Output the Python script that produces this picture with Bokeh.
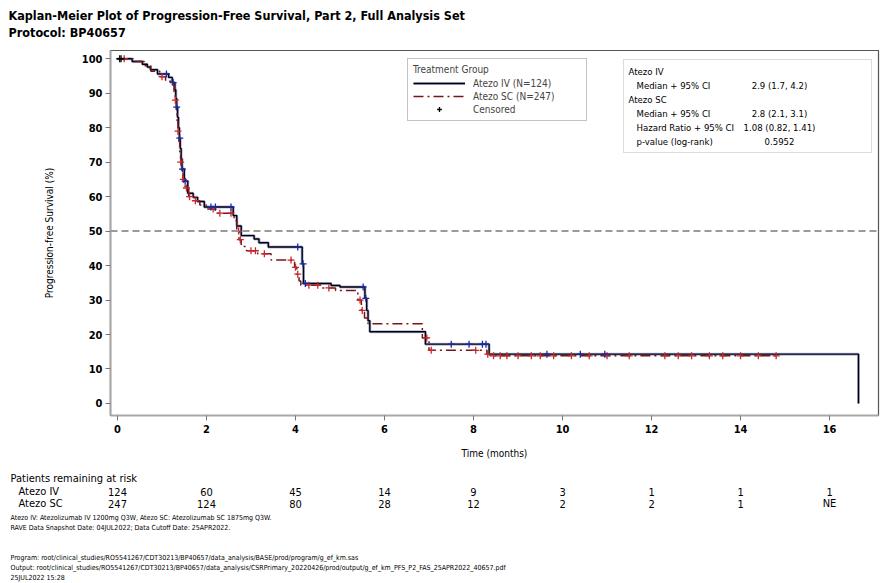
import numpy as np
from bokeh.plotting import figure
from bokeh.layouts import column
from bokeh.models import (Range1d, FixedTicker, Span, Label, BoxAnnotation,
                          Legend, LegendItem)
from bokeh.embed import file_html
from bokeh.resources import INLINE

# ---------------------------------------------------------------- data
# Kaplan-Meier step estimates (time in months, survival in %)
iv_time = [0, 0.33, 0.56, 0.67, 0.74, 0.90, 1.15, 1.23, 1.29, 1.31, 1.33, 1.35,
           1.37, 1.39, 1.41, 1.43, 1.45, 1.50, 1.58, 1.70, 1.80, 1.95, 2.60,
           2.68, 2.78, 3.07, 3.18, 3.39, 4.15, 4.18, 4.80, 5.00, 5.56, 5.60,
           5.63, 5.67, 6.92, 8.35, 16.65]
iv_surv = [100, 99.2, 98.4, 97.6, 96.8, 95.6, 94.6, 93.1, 91.0, 88.5, 86.0, 83.0,
           80.0, 77.0, 74.0, 71.0, 68.0, 64.5, 61.0, 59.8, 58.6, 57.0, 54.5,
           51.5, 48.7, 47.7, 46.6, 45.4, 40.5, 34.8, 34.2, 33.8, 30.5, 27.0,
           24.0, 20.8, 17.2, 14.3, 0]
iv_cens = [0.08, 1.10, 1.25, 1.33, 1.40, 1.46, 1.52, 2.10, 2.20, 2.55, 4.05,
           4.17, 4.22, 5.52, 5.58, 7.50, 7.90, 8.20, 8.28, 9.65, 10.40, 10.95]

sc_time = [0, 0.35, 0.60, 0.75, 0.95, 1.08, 1.20, 1.27, 1.30, 1.32, 1.34, 1.36,
           1.38, 1.40, 1.42, 1.44, 1.47, 1.52, 1.60, 1.72, 1.85, 2.00, 2.20,
           2.62, 2.68, 2.73, 2.78, 2.90, 3.15, 3.45, 3.98, 4.03, 4.08, 4.12,
           4.60, 4.90, 5.40, 5.48, 5.55, 5.63, 6.85, 7.00, 8.30, 8.37]
sc_surv = [100, 99.2, 98.0, 96.4, 94.8, 93.5, 92.5, 90.5, 88.0, 85.0, 82.0, 79.0,
           76.0, 73.0, 70.0, 67.5, 65.0, 62.5, 60.0, 58.8, 57.6, 56.4, 55.2,
           53.0, 50.0, 47.5, 45.5, 44.3, 43.4, 41.6, 39.5, 37.5, 35.5, 34.3,
           33.5, 32.8, 30.0, 27.0, 24.8, 23.1, 19.0, 15.4, 14.3, 13.8]
sc_last = 14.8
sc_cens = [0.05, 0.15, 1.00, 1.30, 1.36, 1.42, 1.48, 1.55, 1.62, 1.75, 2.15,
           2.30, 2.55, 2.72, 2.76, 3.00, 3.10, 3.30, 3.90, 4.00, 4.05, 4.30,
           4.50, 4.75, 5.45, 5.50, 6.95, 7.05, 8.05, 8.32, 8.45, 8.60, 8.75,
           9.00, 9.30, 9.50, 9.80, 10.20, 10.60, 11.00, 11.50, 12.30, 12.60,
           12.90, 13.30, 13.60, 14.00, 14.40, 14.80]

# numbers at risk
risk_times = [0, 2, 4, 6, 8, 10, 12, 14, 16]
risk_iv = ["124", "60", "45", "14", "9", "3", "1", "1", "1"]
risk_sc = ["247", "124", "80", "28", "12", "2", "2", "1", "NE"]

x_ticks = [0, 2, 4, 6, 8, 10, 12, 14, 16]
y_ticks = [0, 10, 20, 30, 40, 50, 60, 70, 80, 90, 100]

stat_labels = ["Atezo IV", "Median + 95% CI", "Atezo SC", "Median + 95% CI",
               "Hazard Ratio + 95% CI", "p-value (log-rank)"]
stat_values = ["", "2.9 (1.7, 4.2)", "", "2.8 (2.1, 3.1)",
               "1.08 (0.82, 1.41)", "0.5952"]
stat_indent = [0, 1, 0, 1, 1, 1]

title_lines = ["Kaplan-Meier Plot of Progression-Free Survival, Part 2, Full Analysis Set",
               "Protocol: BP40657"]
footnotes_a = ["Atezo IV: Atezolizumab IV 1200mg Q3W, Atezo SC: Atezolizumab SC 1875mg Q3W.",
               "RAVE Data Snapshot Date: 04JUL2022; Data Cutoff Date: 25APR2022."]
footnotes_b = ["Program: root/clinical_studies/RO5541267/CDT30213/BP40657/data_analysis/BASE/prod/program/g_ef_km.sas",
               "Output: root/clinical_studies/RO5541267/CDT30213/BP40657/data_analysis/CSRPrimary_20220426/prod/output/g_ef_km_PFS_P2_FAS_25APR2022_40657.pdf",
               "25JUL2022 15:28"]

# ---------------------------------------------------------------- geometry
W, H = 880, 583
HEAD_H = 44                      # title strip
MAIN_BOTTOM = 466                # page y where the plot figure ends
F_LEFT, F_RIGHT, F_TOP, F_BOTTOM = 110, 878, 50, 415   # plot frame, page px
X0, X1 = -0.157, 17.1
Y0, Y1 = -3.5, 102.4
FONT = "Liberation Sans Narrow, DejaVu Sans Condensed, Liberation Sans, sans-serif"
IV_BLUE = "#3a48b8"
SC_RED = "#7a1414"

MONTHS_PER_PX = (X1 - X0) / (F_RIGHT - F_LEFT)


def px_x(px):
    return X0 + (px - F_LEFT) * MONTHS_PER_PX


def px_y(py):
    return Y1 - (py - F_TOP) / (F_BOTTOM - F_TOP) * (Y1 - Y0)


def surv_at(times, surv, t):
    i = np.searchsorted(np.asarray(times), t, side="right") - 1
    return np.asarray(surv)[i]


def blank(height, y_top, y_bottom, x_range):
    f = figure(width=W, height=height, output_backend="svg", toolbar_location=None,
               x_range=x_range, y_range=Range1d(y_bottom, y_top),
               x_axis_type=None, y_axis_type=None, frame_align=False,
               min_border=0, min_border_left=0, min_border_right=0,
               min_border_top=0, min_border_bottom=0)
    f.grid.visible = False
    f.outline_line_color = None
    f.background_fill_color = "white"
    f.border_fill_color = "white"
    return f


def txt(fig, x, y, text, size, style="normal", align="left"):
    fig.add_layout(Label(x=x, y=y, text=text, text_font=FONT,
                         text_font_size=size, text_font_style=style,
                         text_baseline="middle", text_align=align,
                         text_color="black"))


# ---------------------------------------------------------------- title strip
head = blank(HEAD_H, 0, HEAD_H, Range1d(0, W))
for i, line in enumerate(title_lines):
    txt(head, 8, 15 + i * 17, line, "12.5px", "bold")

# ---------------------------------------------------------------- main plot
p = figure(width=W, height=MAIN_BOTTOM - HEAD_H, output_backend="svg",
           toolbar_location=None, frame_align=False,
           x_range=Range1d(X0, X1), y_range=Range1d(Y0, Y1),
           min_border_left=F_LEFT, min_border_right=W - F_RIGHT,
           min_border_top=F_TOP - HEAD_H, min_border_bottom=MAIN_BOTTOM - F_BOTTOM)
p.grid.visible = False
p.outline_line_color = "#555555"
p.outline_line_width = 1.2
p.background_fill_color = "white"
p.border_fill_color = "white"

for ax in (p.xaxis[0], p.yaxis[0]):
    ax.axis_line_color = "#a8a8a8"
    ax.axis_line_width = 2
    ax.major_tick_line_color = "#777777"
    ax.major_tick_in = 0
    ax.major_tick_out = 5
    ax.minor_tick_line_color = None
    ax.major_label_text_font = FONT
    ax.major_label_text_font_size = "11px"
    ax.major_label_text_font_style = "bold"
    ax.major_label_text_color = "black"
    ax.axis_label_text_font = FONT
    ax.axis_label_text_font_size = "10px"
    ax.axis_label_text_font_style = "normal"
    ax.axis_label_text_color = "black"

p.xaxis.ticker = FixedTicker(ticks=x_ticks)
p.yaxis.ticker = FixedTicker(ticks=y_ticks)
p.xaxis.axis_label = "Time (months)"
p.yaxis.axis_label = "Progression-free Survival (%)"
p.xaxis.major_label_standoff = 4
p.yaxis.major_label_standoff = 3
p.xaxis.axis_label_standoff = 12
p.yaxis.axis_label_standoff = 24

# median reference line
p.add_layout(Span(location=50, dimension="width", line_color="#9a9a9a",
                  line_width=2, line_dash="7 4"))

# survival curves
iv_halo = p.step(iv_time, iv_surv, mode="after", line_color=IV_BLUE,
                 line_width=3, line_alpha=0.4)
iv_line = p.step(iv_time, iv_surv, mode="after", line_color="black",
                 line_width=1.4)
sc_x = sc_time + [sc_last]
sc_y = sc_surv + [sc_surv[-1]]
sc_line = p.step(sc_x, sc_y, mode="after", line_color=SC_RED, line_width=1.5,
                 line_dash="10 4 2 4")

# censoring marks
iv_cy = [surv_at(iv_time, iv_surv, t) for t in iv_cens]
sc_cy = [surv_at(sc_x, sc_y, t) for t in sc_cens]
p.scatter(sc_cens[1:], sc_cy[1:], marker="cross", size=7, line_color="#c42a2a",
          line_width=1.3)
p.scatter(iv_cens[1:], iv_cy[1:], marker="cross", size=7, line_color="#1d2a9a",
          line_width=1.3)
# earliest censorings are drawn in black; this renderer also keys the legend
cens_key = p.scatter([iv_cens[0], sc_cens[0]], [iv_cy[0], sc_cy[0]],
                     marker="cross", size=7, line_color="black", line_width=1.3)

legend = Legend(items=[LegendItem(label="Atezo IV (N=124)", renderers=[iv_halo, iv_line]),
                       LegendItem(label="Atezo SC (N=247)", renderers=[sc_line]),
                       LegendItem(label="Censored", renderers=[cens_key])],
                title="Treatment Group", location=(297, 294),
                border_line_color="#888888", background_fill_alpha=1.0,
                glyph_width=52, glyph_height=12, label_height=12,
                label_width=108, label_standoff=8, spacing=1, padding=5,
                margin=0,
                label_text_font=FONT, label_text_font_size="10px",
                title_text_font=FONT, title_text_font_size="10px",
                title_text_font_style="normal", title_standoff=2)
p.add_layout(legend)

# statistics box
p.add_layout(BoxAnnotation(left=px_x(623), right=px_x(871), top=px_y(59),
                           bottom=px_y(152), fill_color=None,
                           line_color="#888888", line_width=1))
for i, (lab, val, ind) in enumerate(zip(stat_labels, stat_values, stat_indent)):
    yy = px_y(71 + i * 14)
    txt(p, px_x(628 + 8 * ind), yy, lab, "9.5px")
    if val:
        txt(p, px_x(779), yy, val, "9.5px", align="center")

# ---------------------------------------------------------------- risk table and notes
foot_range = Range1d(px_x(0), px_x(W))
foot = blank(H - MAIN_BOTTOM, MAIN_BOTTOM, H, foot_range)
txt(foot, px_x(10), 478, "Patients remaining at risk", "11px")
for name, row, py in (("Atezo IV", risk_iv, 491), ("Atezo SC", risk_sc, 503)):
    txt(foot, px_x(18), py, name, "11px")
    for t, n in zip(risk_times, row):
        txt(foot, t, py, n, "11px", align="center")
for i, line in enumerate(footnotes_a):
    txt(foot, px_x(10), 517 + i * 10, line, "7px")
for i, line in enumerate(footnotes_b):
    txt(foot, px_x(10), 557 + i * 10, line, "7px")

layout = column(head, p, foot, spacing=0)
open("out.html", "w").write(file_html(layout, INLINE))
